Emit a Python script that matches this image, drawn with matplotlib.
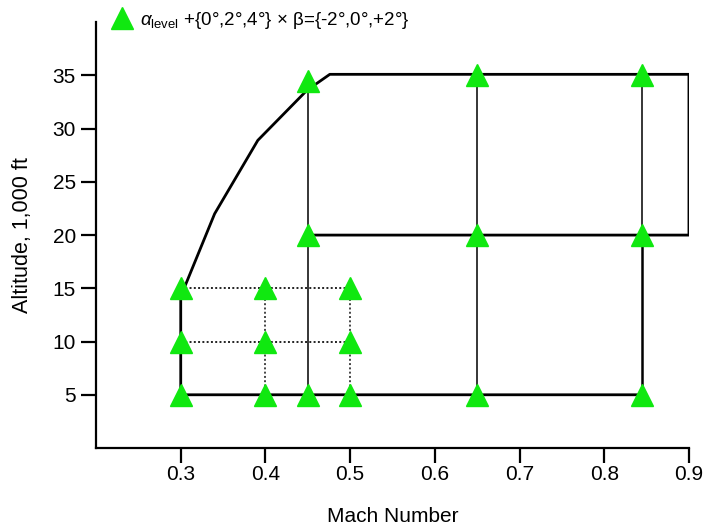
import matplotlib
matplotlib.use("Agg")
import matplotlib.pyplot as plt

plt.rcParams['font.family'] = ['Liberation Sans', 'DejaVu Sans']
plt.rcParams['mathtext.fontset'] = 'custom'
plt.rcParams['mathtext.rm'] = 'Liberation Sans'
plt.rcParams['mathtext.it'] = 'Liberation Sans:italic'

# Test points (Mach, altitude in 1,000 ft)
point_mach = [0.30, 0.30, 0.30, 0.40, 0.40, 0.40, 0.50, 0.50, 0.50,
              0.45, 0.45, 0.45, 0.65, 0.65, 0.65, 0.845, 0.845, 0.845]
point_alt = [5, 10, 15, 5, 10, 15, 5, 10, 15,
             5, 20, 34.5, 5, 20, 35, 5, 20, 35]

# Flight envelope boundary (thick line)
env_mach = [0.845, 0.30, 0.30, 0.305, 0.340, 0.391, 0.449, 0.476, 0.90, 0.90, 0.45]
env_alt = [5, 5, 14.0, 15.2, 22.0, 28.9, 33.6, 35.1, 35.1, 20, 20]

# Thin vertical lines (Mach, alt bottom, alt top)
vline_mach = [0.45, 0.65, 0.845]
vline_bot = [5, 5, 20]
vline_top = [34.5, 35, 35]
thick_vline_mach = [0.845]
thick_vline_bot = [5]
thick_vline_top = [20]

# Dotted grid lines
dot_h_alt = [10, 15]
dot_h_x0, dot_h_x1 = 0.30, 0.50
dot_v_mach = [0.40, 0.50]
dot_v_bot, dot_v_top = 5, 15

xticks = [0.3, 0.4, 0.5, 0.6, 0.7, 0.8, 0.9]
yticks = [5, 10, 15, 20, 25, 30, 35]

fig = plt.figure(figsize=(7.03, 5.29), dpi=100)
ax = fig.add_axes([0.1366, 0.1531, 0.8434, 0.805])

for a in dot_h_alt:
    ax.plot([dot_h_x0, dot_h_x1], [a, a], color='#222222', lw=1.4, ls=(0, (1, 1.2)))
for m in dot_v_mach:
    ax.plot([m, m], [dot_v_bot, dot_v_top], color='#444444', lw=1.4, ls=(0, (1, 1.2)))

for m, b, t in zip(vline_mach, vline_bot, vline_top):
    ax.plot([m, m], [b, t], color='black', lw=1.1)
for m, b, t in zip(thick_vline_mach, thick_vline_bot, thick_vline_top):
    ax.plot([m, m], [b, t], color='black', lw=1.8)

ax.plot(env_mach, env_alt, color='black', lw=2.0, solid_joinstyle='round')

ax.plot(point_mach, point_alt, ls='none', marker='^', ms=16, color='#10e810',
        markeredgecolor='#10e810',
        label=r'$\alpha_{\mathrm{level}}$ +{0°,2°,4°} × β={-2°,0°,+2°}', zorder=5)

ax.set_xlim(0.2, 0.9)
ax.set_ylim(0, 40)
ax.set_xticks(xticks)
ax.set_xticklabels([f"{v:.1f}" for v in xticks])
ax.set_yticks(yticks)
for s in ['top', 'right']:
    ax.spines[s].set_visible(False)
for s in ['left', 'bottom']:
    ax.spines[s].set_linewidth(1.6)
ax.spines['bottom'].set_bounds(0.2, 0.9)
ax.tick_params(direction='out', length=10.5, width=1.6, labelsize=15)
ax.tick_params(axis='x', pad=2)
ax.tick_params(axis='y', pad=4)
ax.set_xlabel('Mach Number', fontsize=15, labelpad=16)
ax.set_ylabel('Altitude, 1,000 ft', fontsize=15.5, labelpad=14)

fig.legend(loc='center left', bbox_to_anchor=(0.147, 0.962), frameon=False,
           fontsize=13.5, handletextpad=0.35, borderaxespad=0, handlelength=1.2)

fig.savefig('out.png', dpi=100)
